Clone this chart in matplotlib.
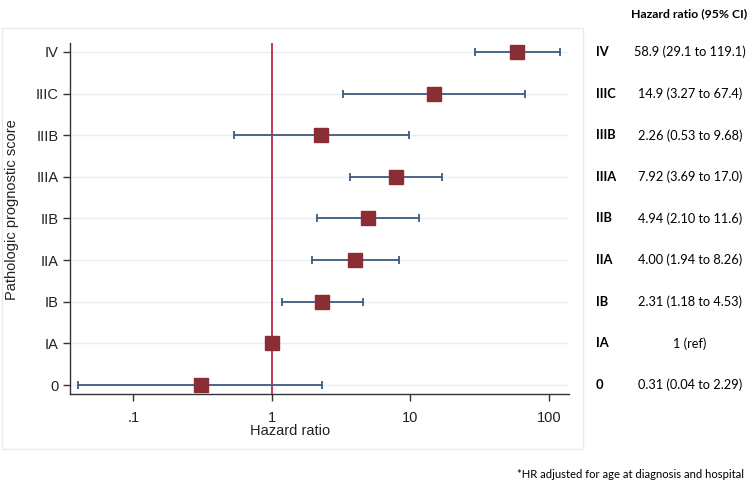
import numpy as np
import matplotlib
matplotlib.use('Agg')
import matplotlib.pyplot as plt
from matplotlib.patches import Rectangle

# data, top row first
stages = ['IV', 'IIIC', 'IIIB', 'IIIA', 'IIB', 'IIA', 'IB', 'IA', '0']
hr     = [58.9, 14.9, 2.26, 7.92, 4.94, 4.00, 2.31, 1.0, 0.31]
ci_lo  = [29.1, 3.27, 0.53, 3.69, 2.10, 1.94, 1.18, np.nan, 0.04]
ci_hi  = [119.1, 67.4, 9.68, 17.0, 11.6, 8.26, 4.53, np.nan, 2.29]
hr_txt = ['58.9 (29.1 to 119.1)', '14.9 (3.27 to 67.4)', '2.26 (0.53 to 9.68)',
          '7.92 (3.69 to 17.0)', '4.94 (2.10 to 11.6)', '4.00 (1.94 to 8.26)',
          '2.31 (1.18 to 4.53)', '1 (ref)', '0.31 (0.04 to 2.29)']
xticks      = [0.1, 1, 10, 100]
xticklabels = ['.1', '1', '10', '100']

BOX   = '#8b2d35'
CI    = '#3e5a7e'
REF   = '#c0294a'
GRID  = '#e9eff3'
FRAME = '#e6edf1'

W, H = 750, 483
fig = plt.figure(figsize=(7.5, 4.83), dpi=100)

# light frame round the stata graph region
fig.patches.append(Rectangle((2 / W, 1 - 449 / H), 581 / W, (449 - 28) / H,
                             transform=fig.transFigure, fill=False,
                             edgecolor=FRAME, linewidth=1.0))

ax = fig.add_axes([70 / W, 1 - 394 / H, (568.7 - 70) / W, (394 - 43) / H])
n = len(stages)
ypos = np.arange(n)[::-1]

for y in ypos:
    ax.axhline(y, color=GRID, linewidth=1.0, zorder=0)

ax.axvline(1, color=REF, linewidth=1.3, zorder=1)

lo = np.array(ci_lo)
hi = np.array(ci_hi)
ok = ~np.isnan(lo)
ax.hlines(ypos[ok], lo[ok], hi[ok], color=CI, linewidth=1.3, zorder=2)
ax.plot(lo[ok], ypos[ok], linestyle='none', marker='|', markersize=5.5,
        markeredgewidth=1.3, color=CI, zorder=2)
ax.plot(hi[ok], ypos[ok], linestyle='none', marker='|', markersize=5.5,
        markeredgewidth=1.3, color=CI, zorder=2)
ax.plot(hr, ypos, linestyle='none', marker='s', markersize=10.5,
        color=BOX, zorder=3)

ax.set_xscale('log')
ax.set_xlim(0.0349, 138.7)
ax.set_ylim(-0.216, n - 1 + 0.216)
ax.set_xticks(xticks)
ax.set_xticklabels(xticklabels)
ax.minorticks_off()
ax.set_yticks(ypos)
ax.set_yticklabels(stages)
ax.tick_params(labelsize=10.5, length=5, width=1, color='#333333',
               labelcolor='#222222', pad=3)
ax.tick_params(axis='x', pad=7)
for lab in ax.get_xticklabels() + ax.get_yticklabels():
    lab.set_family('Liberation Sans')
ax.spines[['top', 'right']].set_visible(False)
for s in ['left', 'bottom']:
    ax.spines[s].set_color('#333333')
    ax.spines[s].set_linewidth(1.0)

fig.text(290 / W, 1 - 431 / H, 'Hazard ratio', ha='center', va='center',
         fontsize=10.5, family='Liberation Sans', color='#222222')
fig.text(12 / W, 1 - 210 / H, 'Pathologic prognostic score', ha='center',
         va='center', rotation=90, fontsize=10.5, family='Liberation Sans',
         color='#222222')

# side table
fig.text(689 / W, 1 - 14 / H, 'Hazard ratio (95% CI)', ha='center',
         va='center', fontsize=8.8, fontweight='bold', family='Lato')
for y, st, t in zip(ypos, stages, hr_txt):
    yf = ax.transData.transform((1, y))[1] / fig.dpi / 4.83
    fig.text(596 / W, yf, st, ha='left', va='center', fontsize=9.3,
             fontweight='bold', family='Lato')
    fig.text(690 / W, yf, t, ha='center', va='center', fontsize=9.2,
             family='Lato')

fig.text(744 / W, 1 - 474 / H, '*HR adjusted for age at diagnosis and hospital',
         ha='right', va='center', fontsize=8.1, family='Lato')

fig.savefig('out.png', dpi=100)
